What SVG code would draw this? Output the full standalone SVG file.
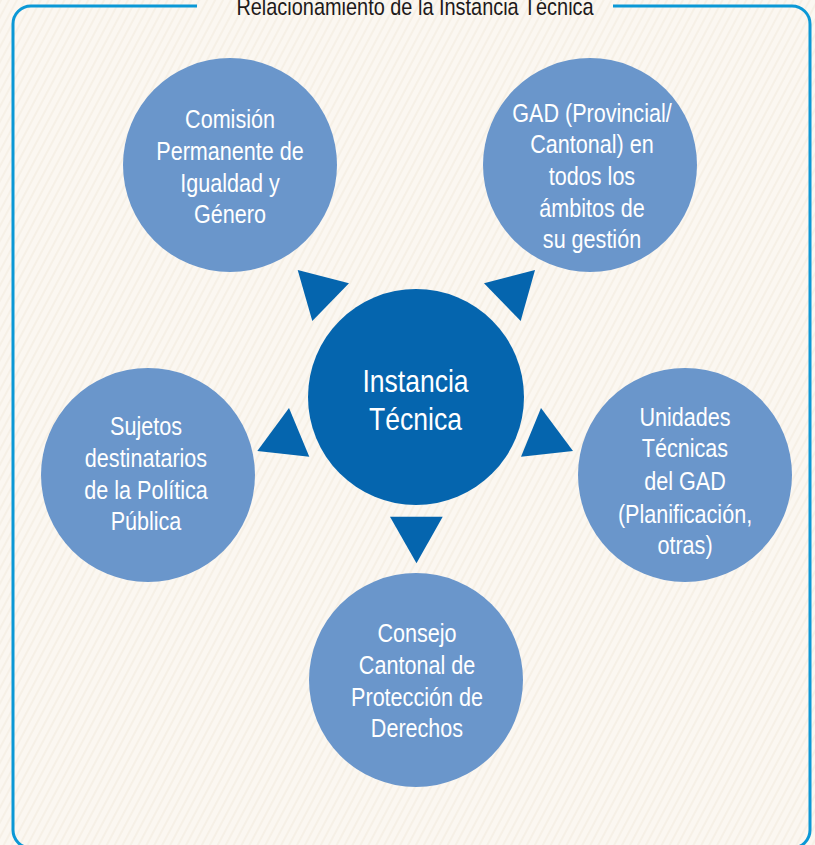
<svg xmlns="http://www.w3.org/2000/svg" width="815" height="845" viewBox="0 0 815 845">
<defs>
<pattern id="stripes" width="7" height="7" patternUnits="userSpaceOnUse" patternTransform="rotate(28)">
<rect width="7" height="7" fill="#fbf7f1"/>
<rect width="2" height="7" fill="#f6f0e6"/>
</pattern>
<style>
.outer{fill:#6a96cb}
.core{fill:#0565ae}
.arrow{fill:#0565ae}
.lbl{font-family:"Liberation Sans",Arial,sans-serif;font-size:26px;fill:#ffffff;text-anchor:middle}
.big{font-size:32px}
.title{font-family:"Liberation Sans",Arial,sans-serif;font-size:24px;fill:#1e1a1a;text-anchor:middle}
.frame{fill:none;stroke:#0b98d6;stroke-width:3}
</style>
</defs>
<rect width="815" height="845" fill="url(#stripes)"/>
<path class="frame" d="M197,6 H31 A18,18 0 0 0 13,24 V830 A18,18 0 0 0 31,848 H792 A18,18 0 0 0 810,830 V24 A18,18 0 0 0 792,6 H613"/>
<g transform="translate(415 0) scale(0.83 1)">
<text class="title" x="0" y="15">Relacionamiento de la Instancia Técnica</text>
</g>

<g id="connectors">
<polygon class="arrow" points="297.7,270 349,283.3 312.3,321"/>
<polygon class="arrow" points="535,270 484,283.3 520.7,321"/>
<polygon class="arrow" points="289,408 257.3,451 309.3,456.7"/>
<polygon class="arrow" points="541,408 573,451 521,456.7"/>
<polygon class="arrow" points="390,516.7 442.7,516.7 416.5,563.3"/>
</g>

<g id="node-comision">
<circle class="outer" cx="230" cy="165" r="107"/>
<g transform="translate(230 0) scale(0.83 1)">
<text class="lbl" x="0" y="128.3">Comisión</text>
<text class="lbl" x="0" y="160">Permanente de</text>
<text class="lbl" x="0" y="191.7">Igualdad y</text>
<text class="lbl" x="0" y="223">Género</text>
</g>
</g>

<g id="node-gad">
<circle class="outer" cx="590" cy="165" r="107"/>
<g transform="translate(592 0) scale(0.83 1)">
<text class="lbl" x="0" y="121.7">GAD (Provincial/</text>
<text class="lbl" x="0" y="152.7">Cantonal) en</text>
<text class="lbl" x="0" y="185">todos los</text>
<text class="lbl" x="0" y="216.7">ámbitos de</text>
<text class="lbl" x="0" y="248.3">su gestión</text>
</g>
</g>

<g id="node-instancia">
<circle class="core" cx="416" cy="397" r="108"/>
<g transform="translate(415.5 0) scale(0.83 1)">
<text class="lbl big" x="0" y="391.7">Instancia</text>
<text class="lbl big" x="0" y="430">Técnica</text>
</g>
</g>

<g id="node-sujetos">
<circle class="outer" cx="148" cy="475" r="107"/>
<g transform="translate(146 0) scale(0.83 1)">
<text class="lbl" x="0" y="435">Sujetos</text>
<text class="lbl" x="0" y="466.7">destinatarios</text>
<text class="lbl" x="0" y="499.3">de la Política</text>
<text class="lbl" x="0" y="530">Pública</text>
</g>
</g>

<g id="node-unidades">
<circle class="outer" cx="685" cy="475" r="107"/>
<g transform="translate(685 0) scale(0.83 1)">
<text class="lbl" x="0" y="425.7">Unidades</text>
<text class="lbl" x="0" y="457.3">Técnicas</text>
<text class="lbl" x="0" y="490">del GAD</text>
<text class="lbl" x="0" y="522.7">(Planificación,</text>
<text class="lbl" x="0" y="554">otras)</text>
</g>
</g>

<g id="node-consejo">
<circle class="outer" cx="416" cy="680" r="107"/>
<g transform="translate(417 0) scale(0.83 1)">
<text class="lbl" x="0" y="641.7">Consejo</text>
<text class="lbl" x="0" y="674">Cantonal de</text>
<text class="lbl" x="0" y="706">Protección de</text>
<text class="lbl" x="0" y="737.3">Derechos</text>
</g>
</g>
</svg>
